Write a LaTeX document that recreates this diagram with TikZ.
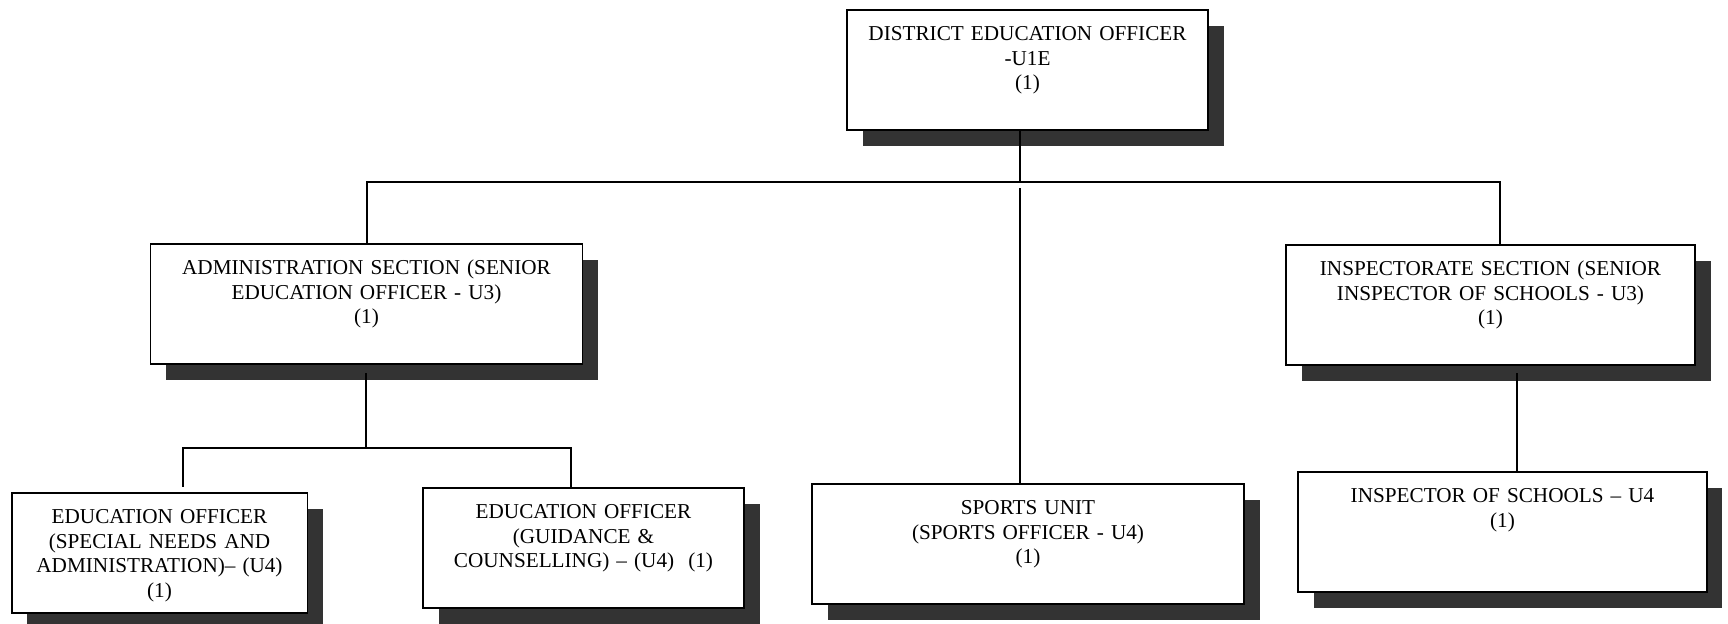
\documentclass[tikz,border=0pt]{standalone}
\usepackage{fontspec}
\setmainfont{Liberation Serif}
\usetikzlibrary{shadows}

\begin{document}
\begin{tikzpicture}[x=0.566pt,y=-0.566pt,
    unit box/.style = {draw,line width=1.1pt,fill=white,anchor=north,align=center,inner xsep=4pt,inner ysep=8pt,text height=9.5pt,text depth=42.5pt,font=\fontsize{12}{13.8}\selectfont,drop shadow={fill=black!80,opacity=1,shadow xshift=9pt,shadow yshift=-9pt}},
    link/.style = {line width=0.9pt}]
        \useasboundingbox (0,0) rectangle (1728,623);
        \node[unit box,text width=196pt] (dist) at (1027.5,9) {DISTRICT EDUCATION OFFICER\\-U1E\\(1)};
        \node[unit box,text width=236.5pt] (admin) at (366.5,243) {ADMINISTRATION SECTION (SENIOR\\EDUCATION OFFICER - U3)\\(1)};
        \node[unit box,text width=223.5pt] (insp) at (1490.5,244) {INSPECTORATE SECTION (SENIOR\\INSPECTOR OF SCHOOLS - U3)\\(1)};
        \node[unit box,text width=159.5pt] (eoa) at (159.5,492) {EDUCATION OFFICER\\(SPECIAL NEEDS AND\\ADMINISTRATION)– (U4)\\(1)};
        \node[unit box,text width=173.6pt] (eob) at (583.5,487) {EDUCATION OFFICER\\(GUIDANCE \&\\COUNSELLING) – (U4)~~(1)};
        \node[unit box,text width=236.5pt] (sports) at (1028,483) {SPORTS UNIT\\(SPORTS OFFICER - U4)\\(1)};
        \node[unit box,text width=223pt] (ios) at (1502.5,471) {INSPECTOR OF SCHOOLS – U4\\(1)};
        \coordinate (trunk) at (1020,182);
        \coordinate (busL) at (367,182);
        \coordinate (busR) at (1500,182);
        \coordinate (sportsTop) at (1020,188);
        \coordinate (adminDrop) at (366,373);
        \coordinate (subbus) at (366,448);
        \coordinate (subL) at (183,448);
        \coordinate (subR) at (571,448);
        \coordinate (inspDrop) at (1517,373);
        \draw[link] (dist.south -| trunk) -- (trunk);
        \draw[link] (busL |- admin.north) -- (busL) -- (busR) -- (busR |- insp.north);
        \draw[link] (sportsTop) -- (sportsTop |- sports.north);
        \draw[link] (adminDrop) -- (subbus);
        \draw[link,shorten <=3pt] (eoa.north -| subL) -- (subL) -- (subR) -- (eob.north -| subR);
        \draw[link] (inspDrop) -- (inspDrop |- ios.north);
    \end{tikzpicture}
\end{document}
